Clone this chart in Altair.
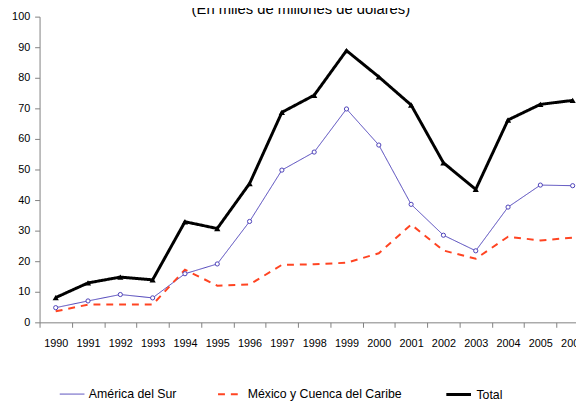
import altair as alt
import pandas as pd

years = [str(y) for y in range(1990, 2007)]
america_del_sur = [4.8, 7.0, 9.1, 8.0, 15.9, 19.1, 33.0, 49.8, 55.7, 69.8, 58.0, 38.6, 28.5, 23.4, 37.7, 44.9, 44.7]
mexico_caribe = [3.6, 5.8, 5.8, 5.8, 17.2, 12.0, 12.4, 18.8, 19.0, 19.5, 22.6, 32.0, 23.5, 20.8, 28.0, 26.8, 27.7]
total = [8.1, 12.9, 14.8, 13.9, 32.9, 30.7, 45.4, 68.7, 74.3, 88.9, 80.3, 71.1, 52.2, 43.5, 66.2, 71.3, 72.6]
series = ["América del Sur", "México y Cuenca del Caribe", "Total"]
subtitle = "(En miles de millones de dólares)"

rows = []
for name, vals in zip(series, [america_del_sur, mexico_caribe, total]):
    for yr, v in zip(years, vals):
        rows.append({"year": yr, "value": v, "serie": name})
df = pd.DataFrame(rows)

FONT = "Liberation Sans"
x_enc = alt.X("year:N", sort=years, title=None,
              scale=alt.Scale(range=[0, 557], paddingInner=0, paddingOuter=0),
              axis=alt.Axis(labelAngle=0, tickBand="extent", domainColor="#808080",
                            tickColor="#808080", tickSize=5, labelPadding=11,
                            labelFontSize=11, labelFont=FONT, labelColor="#000000",
                            labelOverlap=False))
y_enc = alt.Y("value:Q", title=None,
              scale=alt.Scale(domain=[0, 100], nice=False),
              axis=alt.Axis(values=list(range(0, 101, 10)), grid=False,
                            domainColor="#808080", tickColor="#808080", tickSize=5,
                            labelPadding=5, labelFontSize=11, labelFont=FONT,
                            labelColor="#000000"))

legend = alt.Legend(title=None, orient="none", legendX=20, legendY=369,
                    direction="horizontal", symbolType="stroke", symbolSize=625,
                    labelFontSize=12.5, labelFont=FONT, labelColor="#000000",
                    columnPadding=38, labelOffset=4)

lines = alt.Chart(df).mark_line().encode(
    x=x_enc, y=y_enc,
    color=alt.Color("serie:N", sort=series, legend=legend,
                    scale=alt.Scale(domain=series, range=["#4B40B8", "#FF4422", "#000000"])),
    strokeDash=alt.StrokeDash("serie:N", sort=series, legend=legend,
                              scale=alt.Scale(domain=series, range=[[1, 0], [7, 6], [1, 0]])),
    strokeWidth=alt.StrokeWidth("serie:N", sort=series, legend=legend,
                                scale=alt.Scale(domain=series, range=[1, 3, 2])),
)

pts_am = alt.Chart(df).transform_filter(alt.datum.serie == series[0]).mark_point(
    shape="circle", filled=True, fill="#ffffff", stroke="#4B40B8", strokeWidth=1, size=18, opacity=1
).encode(x=x_enc, y=y_enc)

pts_tot = alt.Chart(df).transform_filter(alt.datum.serie == series[2]).mark_point(
    shape="triangle-up", filled=True, color="#000000", size=40, opacity=1
).encode(x=x_enc, y=y_enc)

title = alt.Chart(pd.DataFrame({"t": [subtitle]})).mark_text(
    font=FONT, fontSize=15, align="center", baseline="alphabetic", color="#000000"
).encode(text="t:N", x=alt.value(265), y=alt.value(-3))

chart = alt.layer(lines, pts_am, pts_tot, title).properties(
    width=544, height=310,
    padding={"left": 32, "top": 6, "right": 0, "bottom": 77},
    autosize=alt.AutoSizeParams(type="none"),
).configure_view(stroke=None)

chart.save("out.html", embed_options={"renderer": "svg", "actions": False})
